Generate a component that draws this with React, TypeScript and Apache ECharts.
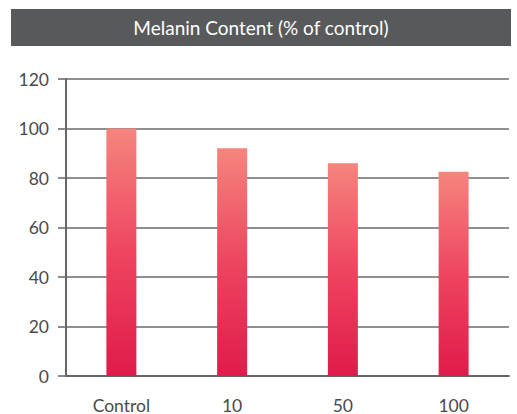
import React, { useEffect, useRef } from "react";
import * as echarts from "echarts";

const categories = ["Control", "10", "50", "100"];
const melanin = [100, 92, 86, 82.5];
const titleText = "Melanin Content (% of control)";

export default function App() {
  const ref = useRef<HTMLDivElement>(null);
  useEffect(() => {
    document.body.style.margin = "0";
    const chart = echarts.init(ref.current!, null, { renderer: "svg" });
    const font = "Lato, 'Noto Sans', sans-serif";
    chart.setOption({
      animation: false,
      backgroundColor: "#ffffff",
      graphic: [
        {
          type: "rect",
          shape: { x: 11, y: 9, width: 500, height: 37 },
          style: { fill: "#58595b" },
        },
        {
          type: "text",
          x: 261,
          y: 27.5,
          style: {
            text: titleText,
            fill: "#ffffff",
            font: `19px ${font}`,
            textAlign: "center",
            textVerticalAlign: "middle",
          },
        },
      ],
      grid: { left: 66, right: 8, top: 79, bottom: 37 },
      xAxis: {
        type: "category",
        data: categories,
        axisLine: { lineStyle: { color: "#666666", width: 2 } },
        axisTick: { show: false },
        axisLabel: { color: "#4a4a4a", fontSize: 17.5, fontFamily: font, margin: 20 },
      },
      yAxis: {
        type: "value",
        min: 0,
        max: 120,
        interval: 20,
        axisLine: { show: true, lineStyle: { color: "#666666", width: 2 } },
        axisTick: { show: true, length: 8, lineStyle: { color: "#666666", width: 1.5 } },
        axisLabel: { color: "#4a4a4a", fontSize: 17.5, fontFamily: font, margin: 17 },
        splitLine: { show: true, lineStyle: { color: "#6a6a6a", width: 1.5 } },
      },
      series: [
        {
          type: "bar",
          data: melanin,
          barWidth: 30,
          itemStyle: {
            color: new echarts.graphic.LinearGradient(0, 0, 0, 1, [
              { offset: 0, color: "#f5857d" },
              { offset: 0.5, color: "#ee4560" },
              { offset: 1, color: "#e01b4a" },
            ]),
          },
        },
      ],
    });
    return () => chart.dispose();
  }, []);
  return <div ref={ref} style={{ width: 517, height: 414 }} />;
}
